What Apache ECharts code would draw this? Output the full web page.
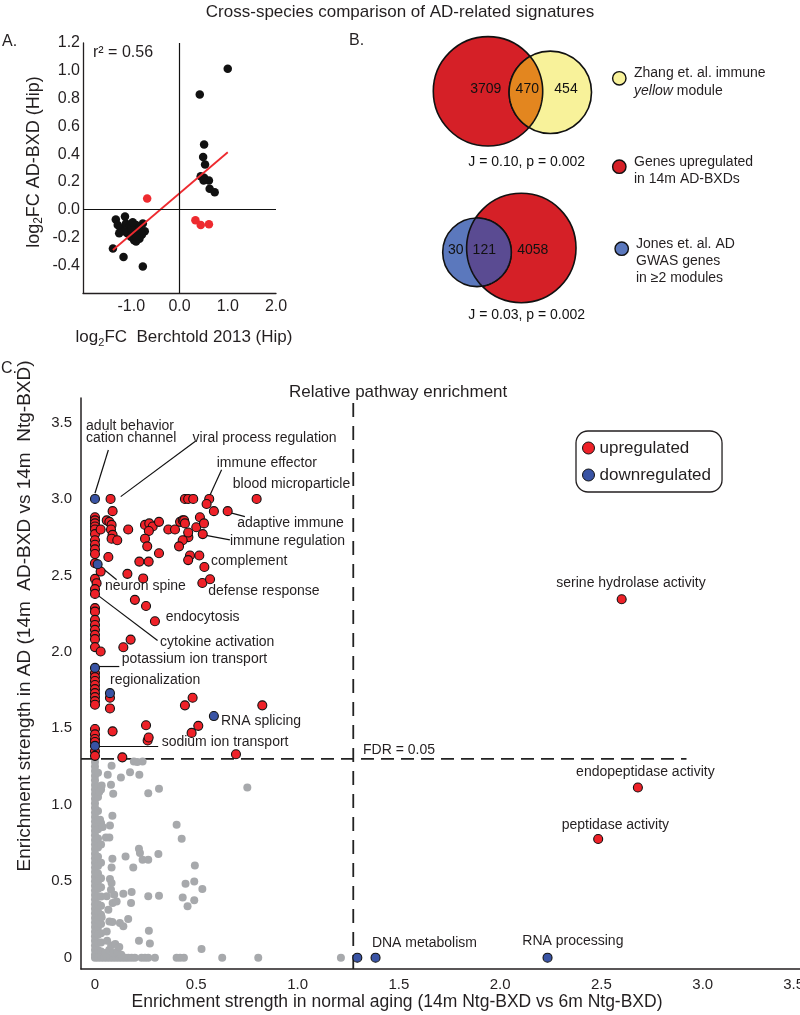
<!DOCTYPE html>
<html><head><meta charset="utf-8">
<script src="https://cdn.jsdelivr.net/npm/echarts@6/dist/echarts.min.js"></script>
<style>html,body{margin:0;padding:0;background:#fff}#c{width:800px;height:1015px}</style>
</head><body><div id="c"></div>
<script>
// ================= DATA =================
// Panel A: log2FC Berchtold 2013 (x) vs log2FC AD-BXD (y)
const panelA_concordant = [
  [1.0,1.015],[0.42,0.83],[0.51,0.47],[0.49,0.38],[0.53,0.325],[0.44,0.24],[0.51,0.23],[0.61,0.21],[0.5,0.21],[0.625,0.15],[0.73,0.125],
  [-1.32,-0.07],[-1.13,-0.05],[-1.38,-0.28],[-1.16,-0.34],[-0.76,-0.41],
  [-1.28,-0.11],[-1.22,-0.135],[-1.11,-0.10],[-1.04,-0.125],[-0.97,-0.15],[-0.90,-0.11],[-0.83,-0.135],[-0.76,-0.10],[-0.72,-0.155],
  [-1.08,-0.17],[-1.01,-0.195],[-0.94,-0.22],[-0.90,-0.23],[-0.83,-0.21],[-0.78,-0.18],[-1.15,-0.155],[-1.25,-0.17],[-1.0,-0.135],
  [-0.87,-0.17],[-0.80,-0.16],[-0.97,-0.09],[-0.89,-0.195]
];
const panelA_discordant = [[-0.67,0.08],[0.33,-0.076],[0.44,-0.11],[0.61,-0.105]];
const panelA_fit = [[-1.38,-0.29],[1.0,0.413]];
const panelA_r2 = 'r\u00b2 = 0.56';
const panelA_xTicks = [-1,0,1,2];
const panelA_yTicks = [-0.4,-0.2,0,0.2,0.4,0.6,0.8,1.0,1.2];

// Panel B: Venn overlaps
const vennTopCounts = [3709, 470, 454];      // AD-BXD only, shared, Zhang only
const vennBottomCounts = [30, 121, 4058];    // Jones only, shared, AD-BXD only
const vennStats = ['J = 0.10, p = 0.002', 'J = 0.03, p = 0.002'];
const vennLegendText = ['Zhang et. al. immune\n{i|yellow} module', 'Genes upregulated\nin 14m AD-BXDs', 'Jones et. al. AD\nGWAS genes\nin \u22652 modules'];

// Panel C: enrichment strength (x: normal aging, y: AD)
const upregulated = [
  [0,2.88],[0,2.86],[0,2.84],[0,2.82],[0,2.80],[0,2.77],[0,2.73],[0,2.70],[0,2.67],[0,2.64],[0,2.58],[0,2.477],[0.008,2.449],[0,2.41],[0,2.379],
  [0,2.286],[0,2.263],[0,2.209],[0,2.176],[0,2.144],[0,2.111],[0,2.083],[0,2.031],[0.028,2.002],[0.028,2.525],[0.028,2.80],
  [0,1.861],[0,1.835],[0,1.809],[0,1.783],[0,1.756],[0,1.730],[0,1.704],[0,1.678],[0,1.654],
  [0,1.495],[0,1.46],[0,1.43],[0,1.41],[0,1.35],[0,1.32],
  [0.077,3.0],[0.087,2.92],[0.444,3.0],[0.46,3.0],[0.485,3.0],[0.564,3.0],[0.551,2.967],[0.798,3.0],[0.587,2.92],[0.655,2.92],
  [0.058,2.86],[0.071,2.85],[0.082,2.83],[0.079,2.80],[0.087,2.765],[0.082,2.74],[0.11,2.73],[0.066,2.62],
  [0.164,2.80],[0.247,2.83],[0.268,2.84],[0.285,2.82],[0.316,2.85],[0.266,2.79],[0.247,2.74],[0.258,2.69],[0.219,2.59],[0.265,2.59],
  [0.316,2.645],[0.16,2.51],[0.238,2.48],[0.197,2.34],[0.252,2.30],[0.296,2.20],[0.14,2.03],[0.176,2.08],
  [0.362,2.80],[0.395,2.80],[0.42,2.85],[0.433,2.86],[0.44,2.86],[0.444,2.84],[0.461,2.75],[0.433,2.73],[0.415,2.69],[0.46,2.78],
  [0.50,2.815],[0.518,2.88],[0.538,2.84],[0.532,2.77],[0.469,2.63],[0.515,2.63],[0.46,2.60],[0.54,2.555],[0.53,2.45],[0.568,2.475],
  [0.074,1.70],[0.074,1.63],[0.087,1.48],[0.252,1.52],[0.26,1.42],[0.265,1.44],[0.444,1.65],[0.482,1.70],[0.477,1.47],[0.51,1.516],
  [0.826,1.65],[0.696,1.33],[0.135,1.31],
  [2.60,2.344],[2.68,1.113],[2.484,0.776]
];
const downregulated = [[0,3.0],[0.013,2.573],[0,1.895],[0.074,1.73],[0,1.385],[0.587,1.58],[1.295,0],[1.385,0],[2.234,0]];
const notSignificant = [
  [0,1.28],[0,1.25],[0,1.22],[0,1.19],[0,1.16],[0,1.13],[0,1.10],[0,1.07],[0,1.04],[0,1.01],[0,0.98],[0,0.95],[0,0.92],[0,0.89],[0,0.86],
  [0,0.83],[0,0.80],[0,0.77],[0,0.74],[0,0.71],[0,0.68],[0,0.65],[0,0.62],[0,0.59],[0,0.56],[0,0.53],[0,0.50],[0,0.47],[0,0.44],[0,0.41],
  [0,0.38],[0,0.35],[0,0.32],[0,0.29],[0,0.26],[0,0.23],[0,0.20],[0,0.17],[0,0.14],[0,0.11],[0,0.08],[0,0.05],[0,0.02],[0,0],
  [0.015,1.21],[0.015,1.12],[0.015,1.05],[0.015,0.96],[0.015,0.9],[0.015,0.84],[0.015,0.78],[0.015,0.72],[0.015,0.66],[0.015,0.6],
  [0.015,0.55],[0.015,0.5],[0.015,0.45],[0.015,0.4],[0.015,0.35],[0.015,0.3],[0.015,0.25],[0.015,0.2],[0.015,0.15],[0.015,0.1],[0.015,0.05],[0.015,0],
  [0.03,1.1],[0.03,0.88],[0.03,0.74],[0.03,0.62],[0.03,0.52],[0.03,0.46],[0.03,0.40],[0.03,0.34],[0.03,0.28],[0.03,0.22],[0.03,0.16],[0.03,0.10],[0.03,0.04],[0.03,0],
  [0.082,1.255],[0.063,1.196],[0.128,1.179],[0.173,1.213],[0.219,1.196],[0.192,1.283],[0.209,1.279],[0.235,1.283],
  [0.033,1.126],[0.079,1.131],[0.09,1.072],[0.263,1.076],[0.316,1.105],[0.752,1.113],[0.021,1.083],
  [0.403,0.869],[0.428,0.778],[0.025,0.902],[0.038,0.854],[0.074,0.865],[0.086,0.928],[0.054,0.786],[0.071,0.786],
  [0.217,0.712],[0.222,0.684],[0.235,0.641],[0.263,0.641],[0.313,0.678],[0.151,0.662],[0.086,0.647],[0.189,0.59],[0.082,0.59],
  [0.493,0.603],[0.447,0.484],[0.49,0.499],[0.53,0.449],[0.433,0.394],[0.49,0.375],[0.457,0.336],
  [0.263,0.401],[0.316,0.405],[0.14,0.418],[0.181,0.429],[0.178,0.357],
  [0.074,0.514],[0.082,0.488],[0.079,0.444],[0.058,0.401],[0.095,0.412],[0.087,0.357],[0.066,0.314],[0.107,0.368],
  [0.033,0.264],[0.071,0.237],[0.086,0.233],[0.123,0.227],[0.164,0.253],[0.14,0.205],[0.058,0.172],
  [0.266,0.176],[0.217,0.111],[0.271,0.092],[0.526,0.057],
  [0.045,0],[0.06,0],[0.075,0],[0.09,0],[0.105,0],[0.12,0],[0.135,0],[0.15,0],[0.165,0],
  [0.05,0.03],[0.07,0.05],[0.09,0.03],[0.11,0.04],[0.13,0.02],[0.08,0.08],[0.1,0.09],[0.06,0.11],[0.12,0.07],
  [0.181,0],[0.197,0],[0.23,0],[0.247,0],[0.263,0],[0.296,0],[0.403,0],[0.42,0],[0.439,0],[0.628,0],[0.806,0],[1.214,0]
];
const fdrThreshold = 1.3;          // -log10(0.05), AD axis
const agingThreshold = 1.275;      // normal aging axis
const pathwayNames = ['adult behavior\ncation channel','viral process regulation','immune effector','blood microparticle','adaptive immune',
  'immune regulation','complement','defense response','neuron spine','endocytosis','cytokine activation','potassium ion transport',
  'regionalization','RNA splicing','sodium ion transport','FDR = 0.05','serine hydrolase activity','endopeptidase activity',
  'peptidase activity','DNA metabolism','RNA processing'];
const panelC_xTicks = [0,0.5,1,1.5,2,2.5,3,3.5];
const panelC_yTicks = [0,0.5,1,1.5,2,2.5,3,3.5];

// ================= LAYOUT (positions/styles, not data) =================
const FONT = '"Liberation Sans", Arial, Helvetica, sans-serif';
const INK = '#231f20';
const labelAnchors = [[-0.044,3.435],[0.482,3.397],[0.601,3.233],[0.680,3.098],[0.702,2.841],[0.666,2.721],[0.573,2.595],[0.559,2.399],
  [0.049,2.427],[0.349,2.224],[0.321,2.063],[0.132,1.954],[0.074,1.817],[0.622,1.549],[0.329,1.407],[1.323,1.36],
  [2.646,2.449],[2.717,1.214],[2.569,0.869],[1.367,0.092],[2.359,0.107]];
const labelAlign = ['left','left','left','left','left','left','left','left','left','left','left','left','left','left','left','left',
  'center','center','center','left','center'];
const leaderLines = [[0.066,3.32,0,3.037],[0.494,3.375,0.127,3.015],[0.625,3.19,0.568,3.026],[0.666,2.91,0.74,2.884],
  [0.535,2.765,0.666,2.732],[0.016,2.569,0.107,2.471],[0,2.384,0.309,2.074],[0.005,1.904,0.12,1.904],[0,1.381,0.312,1.381]];
const vennColors = ['#d52027','#f8f29a','#5b78bd','#e3861f','#5a4b92'];
const vennCircles = [[108,61.3,54.7,0],[170.3,62.3,41.2,1],[141.3,218,54.7,0],[97,222.3,34.3,2]];
const vennLenses = [[108,61.3,54.7,170.3,62.3,41.2,3],[97,222.3,34.3,141.3,218,54.7,4]];
const vennTextPos = [[105.7,59.3],[147.3,59.3],[186,59.3],[75.7,220.3],[104.3,220.3],[152.7,220.3],[146.7,132.3],[146.7,285]];

const vennTexts = vennTopCounts.map(String).concat(vennBottomCounts.map(String), vennStats);

const chart = echarts.init(document.getElementById('c'), null, {renderer:'canvas', width:800, height:1015});

const axisLineA = {show:true, onZero:false, lineStyle:{color:INK, width:1.3}};
const axisLineC = {show:true, onZero:false, lineStyle:{color:INK, width:1.5}};
function fmt1(v){ return v.toFixed(1); }
function fmtC(v){ return v === 0 ? '0' : v.toFixed(1); }

const option = {
  animation: false,
  backgroundColor: '#fff',
  textStyle: {fontFamily: FONT},
  title: [
    {text:'Cross-species comparison of AD-related signatures', left:'center', top:4, padding:0,
     textStyle:{fontSize:17, fontWeight:'normal', color:INK, fontFamily:FONT}},
    {text:'Relative pathway enrichment', left:289, top:384, padding:0,
     textStyle:{fontSize:17, fontWeight:'normal', color:INK, fontFamily:FONT}}
  ],
  legend: {
    data:['upregulated','downregulated'], orient:'vertical', left:576, top:431,
    icon:'circle', itemWidth:12, itemHeight:12, itemGap:7,
    padding:[7,11,7,6], borderColor:INK, borderWidth:1.3, borderRadius:12,
    itemStyle:{borderColor:'#111', borderWidth:1},
    textStyle:{fontSize:17, color:INK, fontFamily:FONT, lineHeight:20}
  },
  grid: [
    {left:83, top:43, width:193, height:250, outerBoundsMode:'none', containLabel:false},
    {left:380, top:30, width:200, height:300, outerBoundsMode:'none', containLabel:false},
    {left:81, top:398, width:723, height:571, outerBoundsMode:'none', containLabel:false}
  ],
  xAxis: [
    {gridIndex:0, type:'value', min:-2, max:2, axisLine:axisLineA, axisTick:{show:false}, splitLine:{show:false},
     axisLabel:{customValues:panelA_xTicks, formatter:fmt1, fontSize:16, color:INK, margin:6, fontFamily:FONT}},
    {gridIndex:1, type:'value', min:0, max:200, show:false},
    {gridIndex:2, type:'value', min:-0.069, max:3.5, axisLine:axisLineC, axisTick:{show:false}, splitLine:{show:false},
     axisLabel:{customValues:panelC_xTicks, formatter:fmtC, fontSize:15, color:INK, margin:8, fontFamily:FONT, alignMaxLabel:'right'}}
  ],
  yAxis: [
    {gridIndex:0, type:'value', min:-0.6, max:1.2, axisLine:axisLineA, axisTick:{show:false}, splitLine:{show:false},
     axisLabel:{customValues:panelA_yTicks, formatter:fmt1, fontSize:16, color:INK, margin:3, fontFamily:FONT}},
    {gridIndex:1, type:'value', min:0, max:300, inverse:true, show:false},
    {gridIndex:2, type:'value', min:-0.074, max:3.66, axisLine:axisLineC, axisTick:{show:false}, splitLine:{show:false},
     axisLabel:{customValues:panelC_yTicks, formatter:fmtC, fontSize:15, color:INK, margin:9, fontFamily:FONT}}
  ],
  series: [
    // ---------- Panel A ----------
    {type:'scatter', name:'A concordant', xAxisIndex:0, yAxisIndex:0, data:panelA_concordant, symbolSize:8.5,
     itemStyle:{color:'#111', opacity:1}, z:3,
     markLine:{silent:true, symbol:['none','none'], label:{show:false}, lineStyle:{color:'#111', width:1.2, type:'solid'},
       data:[{xAxis:0},{yAxis:0}]}},
    {type:'scatter', name:'A discordant', xAxisIndex:0, yAxisIndex:0, data:panelA_discordant, symbolSize:8.5,
     itemStyle:{color:'#ee2a2f', opacity:1}, z:3},
    {type:'line', name:'A fit', xAxisIndex:0, yAxisIndex:0, data:panelA_fit, symbol:'none',
     lineStyle:{color:'#ee2a2f', width:1.8}, z:4},
    // ---------- Panel B ----------
    {type:'custom', name:'venn sets', xAxisIndex:1, yAxisIndex:1, data:vennCircles, encode:{x:0, y:1},
     renderItem:function(params, api){
       const c = api.coord([api.value(0), api.value(1)]);
       const r = api.size([api.value(2), 0])[0];
       return {type:'circle', shape:{cx:c[0], cy:c[1], r:r},
               style:{fill:vennColors[api.value(3)], stroke:'#111', lineWidth:1.6}};
     }},
    {type:'custom', name:'venn overlaps', xAxisIndex:1, yAxisIndex:1, data:vennLenses, encode:{x:0, y:1}, z:3,
     renderItem:function(params, api){
       const c1 = api.coord([api.value(0), api.value(1)]), r1 = api.size([api.value(2),0])[0];
       const c2 = api.coord([api.value(3), api.value(4)]), r2 = api.size([api.value(5),0])[0];
       const dx = c2[0]-c1[0], dy = c2[1]-c1[1], d = Math.hypot(dx, dy);
       const a = (r1*r1 - r2*r2 + d*d) / (2*d);
       const al = Math.acos(Math.max(-1, Math.min(1, a/r1)));
       const be = Math.acos(Math.max(-1, Math.min(1, (d-a)/r2)));
       const phi = Math.atan2(dy, dx);
       const pts = [], N = 60;
       for (let i=0;i<=N;i++){ const t = phi-al+2*al*i/N; pts.push([c1[0]+r1*Math.cos(t), c1[1]+r1*Math.sin(t)]); }
       for (let i=0;i<=N;i++){ const t = phi+Math.PI-be+2*be*i/N; pts.push([c2[0]+r2*Math.cos(t), c2[1]+r2*Math.sin(t)]); }
       return {type:'polygon', shape:{points:pts}, style:{fill:vennColors[api.value(6)], stroke:'#111', lineWidth:1.6}};
     }},
    {type:'custom', name:'venn text', xAxisIndex:1, yAxisIndex:1, z:5,
     data:vennTextPos.map((p,i)=>[p[0],p[1],i]), encode:{x:0, y:1},
     renderItem:function(params, api){
       const c = api.coord([api.value(0), api.value(1)]);
       return {type:'text', x:c[0], y:c[1], style:{text:vennTexts[api.value(2)], font:'14px '+FONT, fill:'#111', align:'center', verticalAlign:'middle'}};
     }},
    // ---------- Panel C ----------
    {type:'scatter', name:'not significant', xAxisIndex:2, yAxisIndex:2, data:notSignificant, symbolSize:8,
     itemStyle:{color:'#a7a9ac', opacity:1}, z:2},
    {type:'line', name:'FDR line', xAxisIndex:2, yAxisIndex:2, data:[[-0.069,fdrThreshold],[2.92,fdrThreshold]], symbol:'none',
     lineStyle:{color:'#222', width:1.8, type:[13,7]}, z:1},
    {type:'line', name:'aging line', xAxisIndex:2, yAxisIndex:2, data:[[agingThreshold,-0.074],[agingThreshold,3.66]], symbol:'none',
     lineStyle:{color:'#222', width:1.8, type:[14,9]}, z:1},
    {type:'custom', name:'leaders', xAxisIndex:2, yAxisIndex:2, data:leaderLines, encode:{x:0, y:1}, z:3,
     renderItem:function(params, api){
       const p1 = api.coord([api.value(0), api.value(1)]), p2 = api.coord([api.value(2), api.value(3)]);
       return {type:'line', shape:{x1:p1[0], y1:p1[1], x2:p2[0], y2:p2[1]}, style:{stroke:'#111', lineWidth:1.2}};
     }},
    {type:'scatter', name:'upregulated', xAxisIndex:2, yAxisIndex:2, data:upregulated, symbolSize:9,
     itemStyle:{color:'#ee2128', borderColor:'#111', borderWidth:1.1, opacity:1}, z:4},
    {type:'scatter', name:'downregulated', xAxisIndex:2, yAxisIndex:2, data:downregulated, symbolSize:9,
     itemStyle:{color:'#3953a4', borderColor:'#111', borderWidth:1.1, opacity:1}, z:5},
    {type:'custom', name:'pathway labels', xAxisIndex:2, yAxisIndex:2, z:6,
     data:labelAnchors.map((p,i)=>[p[0],p[1],i]), encode:{x:0, y:1},
     renderItem:function(params, api){
       const c = api.coord([api.value(0), api.value(1)]);
       const i = api.value(2);
       return {type:'text', x:c[0], y:c[1], style:{text:pathwayNames[i], font:'14px '+FONT, fill:INK,
               align:labelAlign[i], verticalAlign:'middle', lineHeight:12}};
     }}
  ],
  graphic: [
    {type:'text', left:2, top:34, style:{text:'A.', font:'16px '+FONT, fill:INK}},
    {type:'text', left:349, top:33, style:{text:'B.', font:'16px '+FONT, fill:INK}},
    {type:'text', left:1, top:361, style:{text:'C.', font:'16px '+FONT, fill:INK}},
    {type:'text', x:93, y:53, style:{text:panelA_r2, font:'16px '+FONT, fill:INK, verticalAlign:'middle'}},
    {type:'text', x:34, y:162, rotation:Math.PI/2,
     style:{text:'{n|log}{s|2}{n|FC AD-BXD (Hip)}', align:'center', verticalAlign:'middle', fill:INK,
       rich:{n:{fontSize:18, fontFamily:FONT, lineHeight:22, fill:INK}, s:{fontSize:12, fontFamily:FONT, lineHeight:12, verticalAlign:'bottom', fill:INK}}}},
    {type:'text', x:184, y:337,
     style:{text:'{n|log}{s|2}{n|FC  Berchtold 2013 (Hip)}', align:'center', verticalAlign:'middle', fill:INK,
       rich:{n:{fontSize:17, fontFamily:FONT, lineHeight:22, fill:INK}, s:{fontSize:11, fontFamily:FONT, lineHeight:12, verticalAlign:'bottom', fill:INK}}}},
    // Panel B legend
    {type:'circle', shape:{cx:619.3, cy:78.3, r:6.7}, style:{fill:vennColors[1], stroke:'#111', lineWidth:1.4}},
    {type:'circle', shape:{cx:619.3, cy:166.7, r:6.7}, style:{fill:vennColors[0], stroke:'#111', lineWidth:1.4}},
    {type:'circle', shape:{cx:621.7, cy:248.7, r:6.7}, style:{fill:vennColors[2], stroke:'#111', lineWidth:1.4}},
    {type:'text', x:634, y:64.6, style:{text:vennLegendText[0], font:'14px '+FONT, fill:INK, lineHeight:17.4, verticalAlign:'top',
       rich:{i:{fontStyle:'italic', fontSize:14, fontFamily:FONT, lineHeight:17.4, fill:INK}}}},
    {type:'text', x:634, y:154, style:{text:vennLegendText[1], font:'14px '+FONT, fill:INK, lineHeight:16.7, verticalAlign:'top'}},
    {type:'text', x:636, y:235.5, style:{text:vennLegendText[2], font:'14px '+FONT, fill:INK, lineHeight:17, verticalAlign:'top'}},
    // Panel C axis titles
    {type:'text', x:25, y:616, rotation:Math.PI/2,
     style:{text:'Enrichment strength in AD (14m  AD-BXD vs 14m  Ntg-BXD)', font:'19px '+FONT, fill:INK, align:'center', verticalAlign:'middle'}},
    {type:'text', x:397, y:1002,
     style:{text:'Enrichment strength in normal aging (14m Ntg-BXD vs 6m Ntg-BXD)', font:'17.5px '+FONT, fill:INK, align:'center', verticalAlign:'middle'}}
  ]
};
chart.setOption(option);
</script>
</body></html>
